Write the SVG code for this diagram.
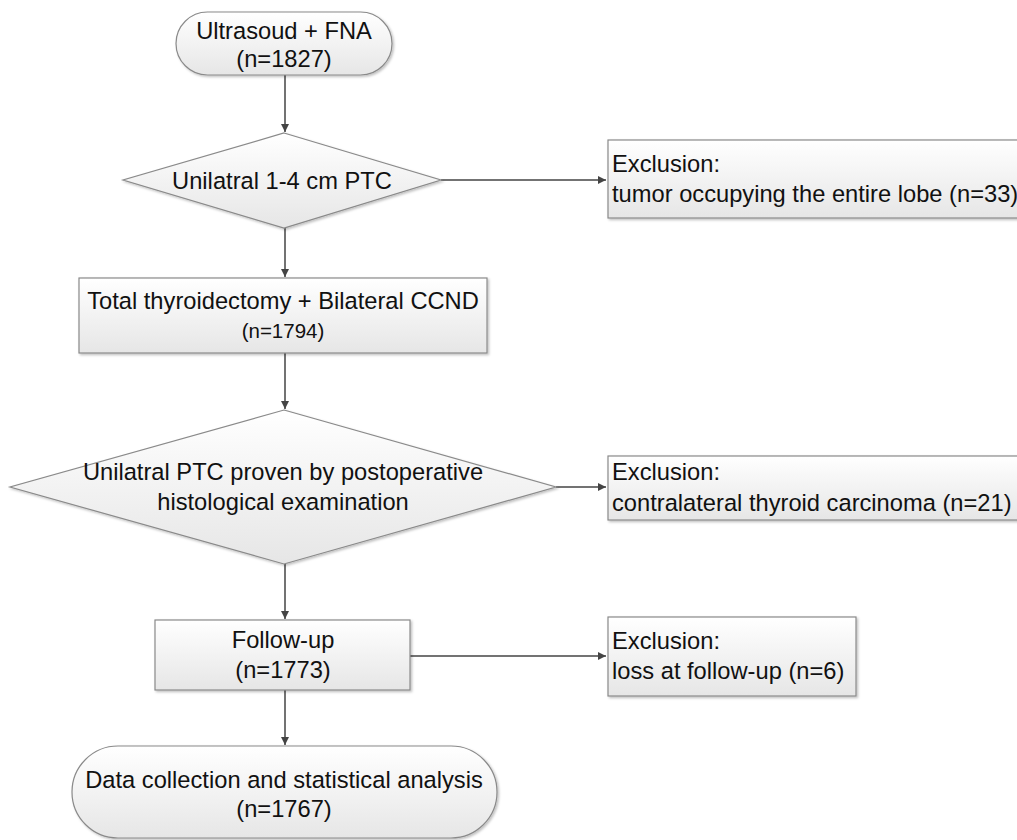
<svg xmlns="http://www.w3.org/2000/svg" width="1017" height="840" viewBox="0 0 1017 840">
<style>
.s{fill:url(#g);stroke:#8a8a8a;stroke-width:1.2;filter:url(#sh)}
.t{font-family:"Liberation Sans",Arial,sans-serif;font-size:23.7px;fill:#111}
.c{text-anchor:middle}
.e{stroke:#444;stroke-width:1.5;fill:none;marker-end:url(#a)}
</style>
<defs>
<linearGradient id="g" x1="0" y1="0" x2="0" y2="1"><stop offset="0" stop-color="#ffffff"/><stop offset="1" stop-color="#e6e6e6"/></linearGradient>
<filter id="sh" x="-5%" y="-5%" width="110%" height="115%"><feDropShadow dx="1.5" dy="1.5" stdDeviation="1" flood-color="#000" flood-opacity="0.25"/></filter>
<marker id="a" viewBox="0 0 10 10" refX="10" refY="5" markerWidth="8" markerHeight="8" markerUnits="userSpaceOnUse" orient="auto"><path d="M0,0 L10,5 L0,10 z" fill="#444"/></marker>
</defs>
<rect width="1017" height="840" fill="#fff"/>
<g id="connectors">
<line class="e" x1="285" y1="75" x2="285" y2="132"/>
<line class="e" x1="441" y1="180" x2="606" y2="180"/>
<line class="e" x1="285" y1="228" x2="285" y2="277"/>
<line class="e" x1="285" y1="353" x2="285" y2="409"/>
<line class="e" x1="556" y1="487" x2="606" y2="487"/>
<line class="e" x1="285" y1="564" x2="285" y2="619"/>
<line class="e" x1="410" y1="656" x2="606" y2="656"/>
<line class="e" x1="285" y1="690" x2="285" y2="745"/>
</g>
<g id="start">
<rect class="s" x="176" y="12" width="216" height="63" rx="31.5"/>
<text class="t c" x="284" y="39">Ultrasoud + FNA</text>
<text class="t c" x="284" y="67">(n=1827)</text>
</g>
<g id="decision1">
<polygon class="s" points="284,133 441,180 284,228 123,180"/>
<text class="t c" x="282" y="189">Unilatral 1-4 cm PTC</text>
</g>
<g id="exclusion1">
<rect class="s" x="608" y="140" width="420" height="78"/>
<text class="t" x="612" y="172">Exclusion:</text>
<text class="t" x="612" y="202">tumor occupying the entire lobe (n=33)</text>
</g>
<g id="surgery">
<rect class="s" x="79" y="278" width="408" height="75"/>
<text class="t c" x="283" y="309">Total thyroidectomy + Bilateral CCND</text>
<text class="t c" x="283" y="338" style="font-size:20.5px">(n=1794)</text>
</g>
<g id="decision2">
<polygon class="s" points="284,410 556,487 284,564 10,487"/>
<text class="t c" x="283" y="480">Unilatral PTC proven by postoperative</text>
<text class="t c" x="283" y="510">histological examination</text>
</g>
<g id="exclusion2">
<rect class="s" x="608" y="456" width="420" height="64"/>
<text class="t" x="612" y="480">Exclusion:</text>
<text class="t" x="612" y="511">contralateral thyroid carcinoma (n=21)</text>
</g>
<g id="followup">
<rect class="s" x="155" y="620" width="255" height="70"/>
<text class="t c" x="283" y="648">Follow-up</text>
<text class="t c" x="283" y="678">(n=1773)</text>
</g>
<g id="exclusion3">
<rect class="s" x="608" y="617" width="248" height="79"/>
<text class="t" x="612" y="649">Exclusion:</text>
<text class="t" x="612" y="679">loss at follow-up (n=6)</text>
</g>
<g id="end">
<rect class="s" x="72" y="746" width="425" height="92" rx="46"/>
<text class="t c" x="284" y="788">Data collection and statistical analysis</text>
<text class="t c" x="284" y="817">(n=1767)</text>
</g>
</svg>
